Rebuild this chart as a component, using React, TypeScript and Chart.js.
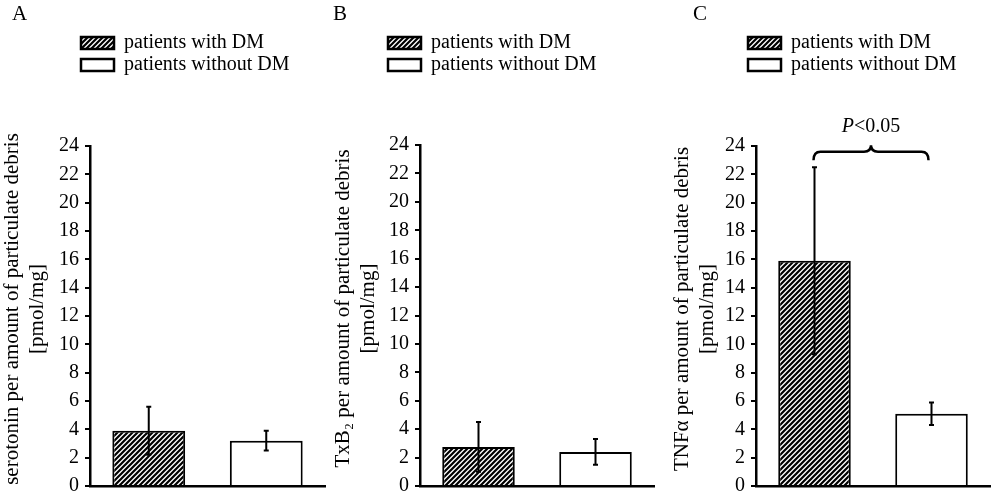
import React, { useEffect, useRef } from 'react';
import { Chart, registerables } from 'chart.js';

Chart.register(...registerables);

// ---------- data ----------
const categories = ['patients with DM', 'patients without DM'];
const legendLabels = ['patients with DM', 'patients without DM'];
const yMin = 0;
const yMax = 24;
const yStep = 2;

const serotoninMean = [3.9, 3.2];
const serotoninSD = [1.7, 0.7];
const txb2Mean = [2.75, 2.4];
const txb2SD = [1.75, 0.9];
const tnfMean = [15.9, 5.1];
const tnfSD = [6.6, 0.8];

const panelLetters = ['A', 'B', 'C'];
const yTitleA = ['serotonin per amount of particulate debris', '[pmol/mg]'];
const yTitleB = ['TxB₂ per amount of particulate debris', '[pmol/mg]'];
const yTitleC = ['TNFα per amount of particulate debris', '[pmol/mg]'];
const significanceLabel = ['P', '<0.05'];

const FONT = '"Liberation Serif", "Times New Roman", serif';

// ---------- layout (styles only) ----------
const panels = [
  { left: 0, width: 330, axisWidth: 90, padTop: 146, padBottom: 8, padRight: 5, legendX: 81, letterX: 12,
    mean: serotoninMean, sd: serotoninSD, title: yTitleA, letter: panelLetters[0], sig: false },
  { left: 331, width: 329, axisWidth: 89, padTop: 145, padBottom: 10, padRight: 6, legendX: 57, letterX: 2,
    mean: txb2Mean, sd: txb2SD, title: yTitleB, letter: panelLetters[1], sig: false },
  { left: 670, width: 322, axisWidth: 86, padTop: 146, padBottom: 13, padRight: 2, legendX: 78, letterX: 23,
    mean: tnfMean, sd: tnfSD, title: yTitleC, letter: panelLetters[2], sig: true },
];

function makeHatch(): CanvasPattern | string {
  const s = 5;
  const c = document.createElement('canvas');
  c.width = s;
  c.height = s;
  const g = c.getContext('2d');
  if (!g) return '#000';
  g.fillStyle = '#fff';
  g.fillRect(0, 0, s, s);
  g.strokeStyle = '#000';
  g.lineWidth = 2.2;
  g.beginPath();
  g.moveTo(0, s); g.lineTo(s, 0);
  g.moveTo(-1, 1); g.lineTo(1, -1);
  g.moveTo(s - 1, s + 1); g.lineTo(s + 1, s - 1);
  g.stroke();
  const p = g.createPattern(c, 'repeat');
  return p || '#000';
}

function Panel({ cfg }: { cfg: typeof panels[number] }) {
  const ref = useRef<HTMLCanvasElement | null>(null);
  useEffect(() => {
    const canvas = ref.current;
    if (!canvas) return;
    const hatch = makeHatch();

    const overlay = {
      id: 'overlay',
      afterDatasetsDraw(chart: any) {
        const ctx = chart.ctx;
        const xs = chart.scales.x;
        const ys = chart.scales.y;
        const meta = chart.getDatasetMeta(0);
        ctx.save();
        // error bars
        ctx.strokeStyle = '#000';
        ctx.lineWidth = 2;
        cfg.mean.forEach((m: number, i: number) => {
          const x = meta.data[i].x;
          const yt = ys.getPixelForValue(m + cfg.sd[i]);
          const yb = ys.getPixelForValue(m - cfg.sd[i]);
          ctx.beginPath();
          ctx.moveTo(x, yt); ctx.lineTo(x, yb);
          ctx.moveTo(x - 2.5, yt); ctx.lineTo(x + 2.5, yt);
          ctx.moveTo(x - 2.5, yb); ctx.lineTo(x + 2.5, yb);
          ctx.stroke();
        });
        // y-axis title (two lines, rotated)
        ctx.save();
        ctx.fillStyle = '#000';
        ctx.font = `21px ${FONT}`;
        ctx.textAlign = 'center';
        ctx.textBaseline = 'middle';
        ctx.translate(12.5, (ys.top + ys.bottom) / 2 - 7);
        ctx.rotate(-Math.PI / 2);
        cfg.title.forEach((line: string, i: number) => ctx.fillText(line, 0, i * 25));
        ctx.restore();
        // panel letter
        ctx.fillStyle = '#000';
        ctx.font = `21px ${FONT}`;
        ctx.textBaseline = 'alphabetic';
        ctx.textAlign = 'left';
        ctx.fillText(cfg.letter, cfg.letterX, 20);
        // legend
        const rows = [43, 65];
        legendLabels.forEach((lab, i) => {
          const y = rows[i];
          ctx.fillStyle = i === 0 ? hatch : '#fff';
          ctx.fillRect(cfg.legendX, y - 6, 33, 12);
          ctx.lineWidth = 2.5;
          ctx.strokeStyle = '#000';
          ctx.strokeRect(cfg.legendX, y - 6, 33, 12);
          ctx.fillStyle = '#000';
          ctx.font = `20px ${FONT}`;
          ctx.textBaseline = 'middle';
          ctx.fillText(lab, cfg.legendX + 43, y);
        });
        // significance brace
        if (cfg.sig) {
          const x0 = xs.getPixelForValue(0) - 1;
          const x1 = xs.getPixelForValue(1) - 3;
          const xm = (x0 + x1) / 2;
          const yH = ys.getPixelForValue(23.6);
          const yE = ys.getPixelForValue(23.0);
          const yP = ys.getPixelForValue(24.05);
          const r = 7;
          ctx.lineWidth = 2.5;
          ctx.beginPath();
          ctx.moveTo(x0, yE);
          ctx.quadraticCurveTo(x0, yH, x0 + r, yH);
          ctx.lineTo(xm - r, yH);
          ctx.quadraticCurveTo(xm, yH, xm, yP);
          ctx.quadraticCurveTo(xm, yH, xm + r, yH);
          ctx.lineTo(x1 - r, yH);
          ctx.quadraticCurveTo(x1, yH, x1, yE);
          ctx.stroke();
          const ty = ys.getPixelForValue(25.35);
          ctx.font = `italic 20px ${FONT}`;
          const w1 = ctx.measureText(significanceLabel[0]).width;
          ctx.font = `20px ${FONT}`;
          const w2 = ctx.measureText(significanceLabel[1]).width;
          const sx = xm - (w1 + w2) / 2;
          ctx.textBaseline = 'middle';
          ctx.font = `italic 20px ${FONT}`;
          ctx.fillText(significanceLabel[0], sx, ty);
          ctx.font = `20px ${FONT}`;
          ctx.fillText(significanceLabel[1], sx + w1, ty);
        }
        ctx.restore();
      },
    };

    const chart = new Chart(canvas, {
      type: 'bar',
      data: {
        labels: categories,
        datasets: [
          {
            data: cfg.mean,
            backgroundColor: [hatch as any, '#ffffff'],
            borderColor: '#000',
            borderWidth: 2,
            borderSkipped: 'bottom',
            barPercentage: 0.62,
            categoryPercentage: 1,
          },
        ],
      },
      options: {
        animation: false,
        responsive: false,
        maintainAspectRatio: false,
        events: [],
        layout: { padding: { left: 0, top: cfg.padTop, right: cfg.padRight, bottom: cfg.padBottom } },
        plugins: { legend: { display: false }, tooltip: { enabled: false }, title: { display: false } },
        scales: {
          x: {
            grid: { display: false },
            border: { display: true, color: '#000', width: 2.5 },
            ticks: { display: false },
            afterFit: (s: any) => { s.height = 0; },
          },
          y: {
            min: yMin,
            max: yMax,
            ticks: { stepSize: yStep, color: '#000', font: { family: FONT, size: 20 }, padding: 6 },
            grid: { drawOnChartArea: false, drawTicks: true, tickLength: 5, color: '#000', lineWidth: 2 },
            border: { display: true, color: '#000', width: 2.5 },
            title: { display: false },
            afterFit: (s: any) => { s.width = cfg.axisWidth; },
          },
        },
      },
      plugins: [overlay],
    });
    return () => chart.destroy();
  }, [cfg]);

  return (
    <canvas
      ref={ref}
      width={cfg.width}
      height={504}
      style={{ position: 'absolute', left: cfg.left, top: 0, width: cfg.width, height: 504 }}
    />
  );
}

export default function App() {
  return (
    <div style={{ position: 'absolute', left: 0, top: 0, width: 992, height: 504, background: '#fff' }}>
      {panels.map((p, i) => (
        <Panel key={i} cfg={p} />
      ))}
    </div>
  );
}
